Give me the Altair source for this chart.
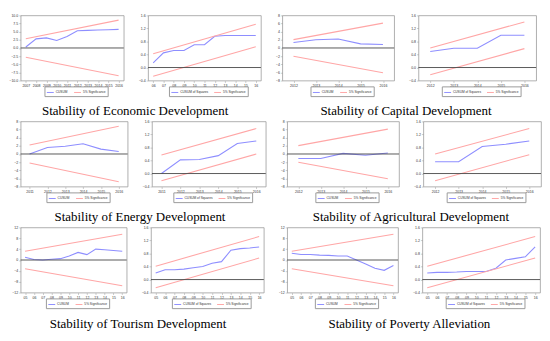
import altair as alt
import pandas as pd

SIG = "5% Significance"
BLUE = "#8e8eff"
RED = "#ffa6a6"

# ---------- Economic ----------
econ_cs_x = ["2007", "2008", "2009", "2010", "2011", "2012", "2013", "2014", "2015", "2016"]
econ_cs = [0.3, 2.8, 3.1, 2.3, 3.5, 5.3, 5.4, 5.5, 5.6, 5.7]
econ_cs_up = [2.85, 8.55]
econ_cs_lo = [-2.85, -8.55]
econ_sq_x = ["06", "07", "08", "09", "10", "11", "12", "13", "14", "15", "16"]
econ_sq = [0.14, 0.45, 0.52, 0.52, 0.70, 0.70, 0.96, 0.98, 0.98, 0.98, 0.98]
econ_sq_up = [0.42, 1.33]
econ_sq_lo = [-0.27, 0.64]

# ---------- Capital ----------
cap_x = ["2012", "2013", "2014", "2015", "2016"]
cap_cs = [1.35, 2.0, 2.2, 1.0, 0.85]
cap_cs_up = [2.05, 6.1]
cap_cs_lo = [-2.05, -6.1]
cap_sq = [0.49, 0.59, 0.59, 0.99, 0.99]
cap_sq_up = [0.60, 1.40]
cap_sq_lo = [-0.22, 0.58]

# ---------- Energy ----------
ene_x = ["2011", "2012", "2013", "2014", "2015", "2016"]
ene_cs = [0.0, 1.6, 1.9, 2.5, 1.2, 0.6]
ene_cs_up = [2.2, 6.8]
ene_cs_lo = [-2.2, -6.8]
ene_sq = [0.0, 0.42, 0.43, 0.55, 0.92, 1.0]
ene_sq_up = [0.57, 1.38]
ene_sq_lo = [-0.22, 0.60]

# ---------- Agricultural ----------
agr_x = ["2012", "2013", "2014", "2015", "2016"]
agr_cs = [-1.1, -1.1, 0.15, -0.3, 0.25]
agr_cs_up = [2.05, 6.1]
agr_cs_lo = [-2.05, -6.1]
agr_sq = [0.36, 0.36, 0.83, 0.90, 1.0]
agr_sq_up = [0.60, 1.38]
agr_sq_lo = [-0.22, 0.58]

# ---------- Tourism ----------
tou_x = ["05", "06", "07", "08", "09", "10", "11", "12", "13", "14", "15", "16"]
tou_cs = [1.0, 0.2, 0.0, 0.3, 0.5, 1.5, 2.8, 2.0, 4.0, 3.8, 3.5, 3.2]
tou_cs_up = [3.2, 9.5]
tou_cs_lo = [-3.2, -9.5]
tou_sq = [0.2, 0.3, 0.3, 0.32, 0.36, 0.4, 0.5, 0.55, 0.9, 0.95, 0.97, 1.0]
tou_sq_up = [0.41, 1.32]
tou_sq_lo = [-0.25, 0.66]

# ---------- Poverty ----------
pov_x = ["05", "06", "07", "08", "09", "10", "11", "12", "13", "14", "15", "16"]
pov_cs = [2.5, 2.0, 2.0, 1.8, 1.7, 1.5, 1.5, 0.0, -1.5, -3.0, -3.8, -2.0]
pov_cs_up = [3.2, 9.5]
pov_cs_lo = [-3.2, -9.5]
pov_sq = [0.2, 0.22, 0.22, 0.23, 0.25, 0.25, 0.25, 0.35, 0.6, 0.65, 0.7, 1.0]
pov_sq_up = [0.41, 1.32]
pov_sq_lo = [-0.25, 0.66]

titles = [
    "Stability of Economic Development", "Stability of Capital Development",
    "Stability of Energy Development", "Stability of Agricultural Development",
    "Stability of Tourism Development", "Stability of Poverty Alleviation",
]

SQ_TICKS = [-0.4, 0.0, 0.4, 0.8, 1.2, 1.6]
SQ_DOM = [-0.4, 1.6]
H = 67


def panel(xs, blue, up, lo, label, ydom, yticks, yfmt, w, legw):
    rows = [{"x": x, "v": v, "s": label, "k": "a"} for x, v in zip(xs, blue)]
    rows += [{"x": x, "v": v, "s": SIG, "k": "u"} for x, v in zip([xs[0], xs[-1]], up)]
    rows += [{"x": x, "v": v, "s": SIG, "k": "l"} for x, v in zip([xs[0], xs[-1]], lo)]
    df = pd.DataFrame(rows)
    lines = alt.Chart(df).mark_line(strokeWidth=1.1).encode(
        x=alt.X("x:O", sort=xs, title=None, scale=alt.Scale(padding=0.5),
                axis=alt.Axis(labelAngle=0)),
        y=alt.Y("v:Q", title=None, scale=alt.Scale(domain=ydom, nice=False, zero=False),
                axis=alt.Axis(values=yticks, format=yfmt, labelOverlap=False)),
        color=alt.Color("s:N", scale=alt.Scale(domain=[label, SIG], range=[BLUE, RED]),
                        legend=alt.Legend(orient="none", legendX=(w - legw) / 2, legendY=H + 6,
                                          direction="horizontal", title=None,
                                          labelFontSize=3.3, labelFont="Liberation Sans",
                                          labelColor="#333", labelOffset=1,
                                          symbolType="stroke", symbolSize=50,
                                          symbolStrokeWidth=1, columnPadding=3,
                                          padding=1.5, strokeColor="#999",
                                          fillColor="white")),
        detail="k:N",
    )
    zero = alt.Chart(pd.DataFrame({"z": [0]})).mark_rule(color="#444", strokeWidth=0.9).encode(
        y=alt.Y("z:Q", title=None, axis=alt.Axis(values=yticks, format=yfmt, labelOverlap=False))
    )
    return alt.layer(lines, zero).properties(width=w, height=H)


def pair(a, b, title):
    return alt.hconcat(a, b, spacing=13, title=alt.TitleParams(
        title, orient="bottom", anchor="middle", font="Liberation Serif", fontSize=13.3,
        fontWeight="normal", color="black", offset=8)
    ).resolve_scale(color="independent").resolve_legend(color="independent")


CS = "CUSUM"
SQ = "CUSUM of Squares"
LW_CS = 57
LW_SQ = 73
CS12 = [-12, -8, -4, 0, 4, 8, 12]

row1 = alt.hconcat(
    pair(panel(econ_cs_x, econ_cs, econ_cs_up, econ_cs_lo, CS, [-10, 10],
               [-10, -7.5, -5, -2.5, 0, 2.5, 5, 7.5, 10], ".1f", 106, LW_CS),
         panel(econ_sq_x, econ_sq, econ_sq_up, econ_sq_lo, SQ, SQ_DOM, SQ_TICKS, ".1f", 116, LW_SQ),
         titles[0]),
    pair(panel(cap_x, cap_cs, cap_cs_up, cap_cs_lo, CS, [-8, 8],
               [-8, -6, -4, -2, 0, 2, 4, 6, 8], "d", 115, LW_CS),
         panel(cap_x, cap_sq, cap_sq_up, cap_sq_lo, SQ, SQ_DOM, SQ_TICKS, ".1f", 121, LW_SQ),
         titles[1]),
    spacing=13,
).resolve_scale(color="independent").resolve_legend(color="independent")

row2 = alt.hconcat(
    pair(panel(ene_x, ene_cs, ene_cs_up, ene_cs_lo, CS, [-8, 8],
               [-8, -6, -4, -2, 0, 2, 4, 6, 8], "d", 110, LW_CS),
         panel(ene_x, ene_sq, ene_sq_up, ene_sq_lo, SQ, SQ_DOM, SQ_TICKS, ".1f", 117, LW_SQ),
         titles[2]),
    pair(panel(agr_x, agr_cs, agr_cs_up, agr_cs_lo, CS, [-8, 8],
               [-8, -6, -4, -2, 0, 2, 4, 6, 8], "d", 115, LW_CS),
         panel(agr_x, agr_sq, agr_sq_up, agr_sq_lo, SQ, SQ_DOM, SQ_TICKS, ".1f", 121, LW_SQ),
         titles[3]),
    spacing=13,
).resolve_scale(color="independent").resolve_legend(color="independent")

row3 = alt.hconcat(
    pair(panel(tou_x, tou_cs, tou_cs_up, tou_cs_lo, CS, [-12, 12], CS12, "d", 109, LW_CS),
         panel(tou_x, tou_sq, tou_sq_up, tou_sq_lo, SQ, SQ_DOM, SQ_TICKS, ".1f", 116, LW_SQ),
         titles[4]),
    pair(panel(pov_x, pov_cs, pov_cs_up, pov_cs_lo, CS, [-12, 12], CS12, "d", 114, LW_CS),
         panel(pov_x, pov_sq, pov_sq_up, pov_sq_lo, SQ, SQ_DOM, SQ_TICKS, ".1f", 121, LW_SQ),
         titles[5]),
    spacing=13,
).resolve_scale(color="independent").resolve_legend(color="independent")

chart = alt.vconcat(row1, row2, row3, spacing=0).resolve_scale(
    color="independent").resolve_legend(color="independent").properties(
    padding=0
).configure_view(stroke="#999", strokeWidth=0.8).configure_axis(
    domain=False, grid=False, labelFont="Liberation Sans", labelFontSize=3.6,
    labelColor="#333", tickSize=2, tickColor="#999", tickWidth=0.5, labelPadding=1,
    labelOverlap=False
)

chart.save("out.html", embed_options={"renderer": "svg", "actions": False})
